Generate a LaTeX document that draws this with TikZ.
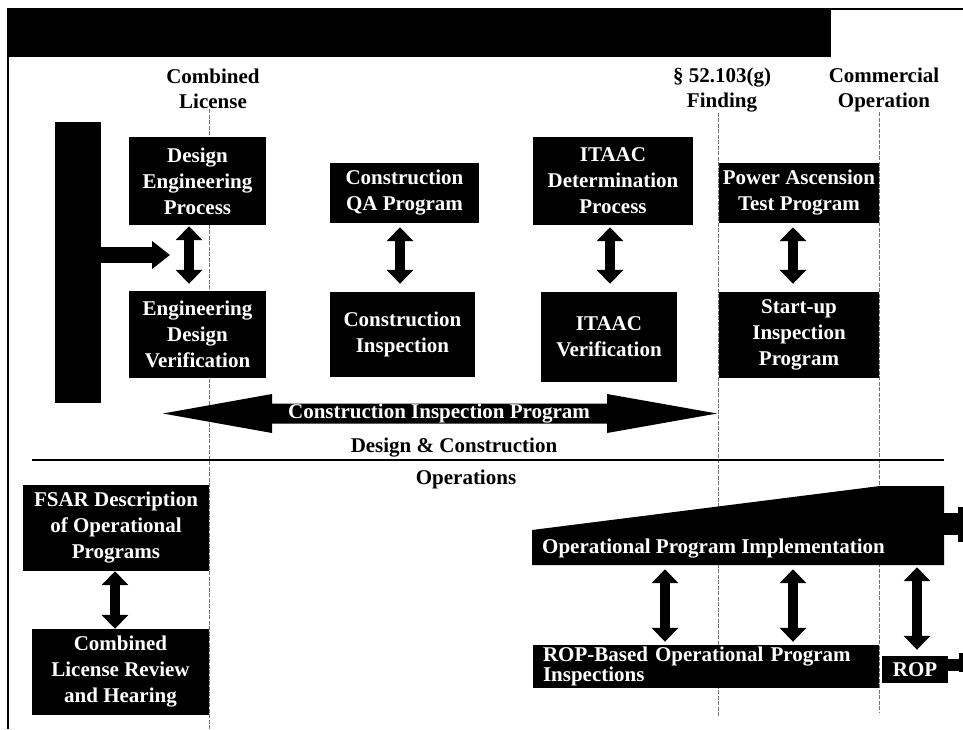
\documentclass[tikz,border=0pt]{standalone}
\usepackage{fontspec}
\setmainfont{Liberation Serif}
\usetikzlibrary{arrows.meta,calc}
\begin{document}
\begin{tikzpicture}[x=1pt,y=-1pt,
  box/.style={fill=black,text=white,font=\bfseries\fontsize{21}{26}\selectfont,align=center,inner sep=0pt},
  hdr/.style={font=\bfseries\fontsize{21}{25.5}\selectfont,align=center,text=black,inner sep=0pt},
  guide/.style={draw=black!55,line width=0.8pt,dash pattern=on 4pt off 1.5pt},
  dbl/.style={line width=10pt,{Triangle[width=26pt,length=14pt]}-{Triangle[width=26pt,length=14pt]}},
  wtxt/.style={text=white,font=\bfseries\fontsize{21}{26}\selectfont,inner sep=0pt}]
\useasboundingbox (0,0) rectangle (963,729);
\fill[white] (0,0) rectangle (963,729);
% frame and banner
\draw[line width=1.5pt] (8,9) -- (963,9);
\draw[line width=2pt] (8,8) -- (8,729);
\fill (8,8) rectangle (831,57);
% headers
\node[hdr] (hCL) at (213,89) {Combined\\License};
\node[hdr] (hF) at (722,90) {§ 52.103(g)\\Finding};
\node[hdr] (hCO) at (884,90) {Commercial\\Operation};
% guide lines
\coordinate (g1) at (209,729);
\coordinate (g2) at (718,717);
\coordinate (g3) at (879,713);
\draw[guide] (hCL.south -| g1) -- (g1);
\draw[guide] (hF.south -| g2) -- (g2);
\draw[guide] (hCO.south -| g3) -- (g3);
% left bar
\node[fill=black,minimum width=46pt,minimum height=281pt,inner sep=0pt] (bar) at (78,262.5) {};
\coordinate (ha) at (170,255);
\draw[line width=16pt,-{Triangle[width=27pt,length=18pt]}] ($(bar.east)+(-1,-7.5)$) -- (ha);
% design & construction boxes
\node[box,minimum width=137pt,minimum height=88pt] (dep) at (197.5,181) {Design\\Engineering\\Process};
\node[box,minimum width=137pt,minimum height=87pt] (edv) at (197.5,334.5) {Engineering\\Design\\Verification};
\node[box,minimum width=149pt,minimum height=60pt] (cqa) at (404.5,193) {Construction\\QA Program};
\node[box,minimum width=145pt,minimum height=85pt] (cin) at (402.5,334.5) {Construction\\Inspection};
\node[box,minimum width=160pt,minimum height=88pt] (idp) at (613,181) {ITAAC\\Determination\\Process};
\node[box,minimum width=136pt,minimum height=90pt] (iv) at (609,337) {ITAAC\\Verification};
\node[box,minimum width=160pt,minimum height=60pt] (pat) at (799,193) {Power Ascension\\Test Program};
\node[box,minimum width=160pt,minimum height=86pt] (sip) at (799,335) {Start-up\\Inspection\\Program};
% vertical double arrows
\coordinate (x1) at (189,0);
\coordinate (x2) at (400,0);
\coordinate (x3) at (610,0);
\coordinate (x4) at (793,0);
\draw[dbl] ($(dep.south -| x1)+(0,1)$) -- ($(edv.north -| x1)+(0,-7)$);
\draw[dbl] ($(cqa.south -| x2)+(0,4)$) -- ($(cin.north -| x2)+(0,-8)$);
\draw[dbl] ($(idp.south -| x3)+(0,2)$) -- ($(iv.north -| x3)+(0,-8)$);
\draw[dbl] ($(pat.south -| x4)+(0,4)$) -- ($(sip.north -| x4)+(0,-8)$);
% construction inspection program arrow
\coordinate (cipL) at (163,413.5);
\coordinate (cipR) at (717,413.5);
\fill (cipL) -- ($(cipL)+(109,-19.5)$) -- ($(cipL)+(109,-10)$) -- ($(cipR)+(-110,-10)$)
  -- ($(cipR)+(-110,-19.5)$) -- (cipR) -- ($(cipR)+(-110,19.5)$) -- ($(cipR)+(-110,10)$)
  -- ($(cipL)+(109,10)$) -- ($(cipL)+(109,19.5)$) -- cycle;
\node[wtxt] (cip) at (439,414) {Construction Inspection Program};
% separator
\node[hdr] (dc) at (454,448) {Design \& Construction};
\coordinate (sepL) at (32,460);
\coordinate (sepR) at (944,460);
\draw[line width=2.5pt] (sepL) -- (sepR);
\node[hdr] (ops) at (466,479) {Operations};
% operations left
\node[box,minimum width=186pt,minimum height=86pt] (fsar) at (116,528) {FSAR Description\\of Operational\\Programs};
\node[box,minimum width=177pt,minimum height=86pt] (clr) at (120.5,672) {Combined\\License Review\\and Hearing};
\coordinate (x5) at (115,0);
\draw[dbl] (fsar.south -| x5) -- (clr.north -| x5);
% operational program implementation
\fill (532,565) -- (532,530) -- (880,486) -- (944,486) -- (944,565) -- cycle;
\fill (943,513) rectangle (959,535);
\fill (958,507) rectangle (963,542);
\node[inner sep=0pt,minimum width=412pt,minimum height=35pt] (opi) at (738,547.5) {};
\node[wtxt,anchor=west] (opit) at (542,549) {Operational Program Implementation};
% ROP boxes
\node[box,minimum width=346pt,minimum height=43pt,align=left,text width=326pt,font=\bfseries\fontsize{21}{17}\selectfont] (rpb) at (706,666.5) {ROP-Based Operational Program\\Inspections};
\node[box,minimum width=66pt,minimum height=27pt] (rop) at (915,669.5) {ROP};
\fill (947,659) rectangle (960,671);
\fill (959,653) rectangle (963,672);
\coordinate (x6) at (665,0);
\coordinate (x7) at (793,0);
\coordinate (x8) at (917,0);
\draw[dbl] ($(opi.south -| x6)+(0,4)$) -- ($(rpb.north -| x6)+(0,-3)$);
\draw[dbl] ($(opi.south -| x7)+(0,4)$) -- ($(rpb.north -| x7)+(0,-3)$);
\draw[dbl] ($(opi.south -| x8)+(0,2)$) -- ($(rop.north -| x8)+(0,-6)$);
\end{tikzpicture}
\end{document}
